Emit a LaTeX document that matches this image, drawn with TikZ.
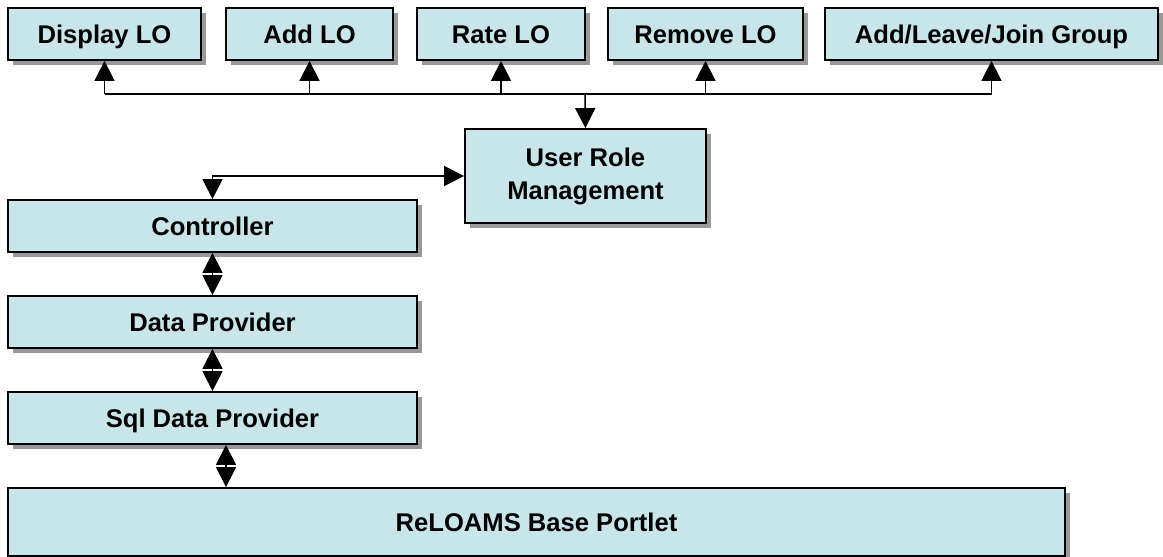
\documentclass[tikz,border=0pt]{standalone}
\usepackage{fontspec}
\setmainfont{Liberation Sans}
\usetikzlibrary{arrows.meta,shadows}
\definecolor{boxfill}{RGB}{200,230,234}

\begin{document}
\begin{tikzpicture}[x=0.5pt,y=-0.5pt,
			box/.style={draw,line width=0.9pt,fill=boxfill,inner sep=0pt,minimum height=26pt,
				font=\fontsize{12.8}{16.5}\selectfont\bfseries,text height=9.2pt,text depth=0pt,
				drop shadow={shadow xshift=2.5pt,shadow yshift=-2.5pt,fill=black!40,opacity=1}},
			two line/.style={align=center,text height=,text depth=},
			tip/.style={line width=0.75pt,-{Triangle[length=10pt,width=10pt]}},
			dbl/.style={line width=0.75pt,{Triangle[length=10pt,width=10pt]}-{Triangle[length=10pt,width=10pt]}}
			]
			
			\useasboundingbox (0,0) rectangle (1163,557);
			
			% top row
			\node[box,minimum width=96.5pt] at (104.5,34) (disp) {Display LO};
			\node[box,minimum width=83.5pt] at (309.5,34) (add) {Add LO};
			\node[box,minimum width=84pt] at (501,34) (rate) {Rate LO};
			\node[box,minimum width=97.5pt] at (705.5,34) (rem) {Remove LO};
			\node[box,minimum width=166.5pt] at (991.5,34) (grp) {Add/Leave/Join Group};
			
			\node[box,two line,minimum width=120.5pt,minimum height=47pt] at (585.5,176) (urm) {User Role\\Management};
			
			% left stack
			\node[box,minimum width=204.5pt] at (212.5,226) (ctrl) {Controller};
			\node[box,minimum width=204.5pt] at (212.5,322) (data) {Data Provider};
			\node[box,minimum width=204.5pt] at (212.5,418) (sql) {Sql Data Provider};
			\node[box,minimum width=528.5pt,minimum height=34pt] at (536.5,522) (base) {ReLOAMS Base Portlet};
			
			\coordinate (bus) at (585,94);
			
			\draw[line width=0.75pt] (disp.south |- bus) -- (grp.south |- bus);
			\foreach \s in {disp,add,rate,rem,grp} {
				\draw[tip] (\s.south |- bus) -- (\s.south);
			}
			\draw[tip] (bus) -- (urm.north);
			
			\draw[dbl] (ctrl.north) |- (urm.west);
			
			\draw[dbl] (ctrl.south) -- (data.north);
			\draw[dbl] (data.south) -- (sql.north);
			\draw[dbl] ([xshift=6.75pt]sql.south) -- ([xshift=6.75pt]sql.south |- base.north);
			\end{tikzpicture}
\end{document}
